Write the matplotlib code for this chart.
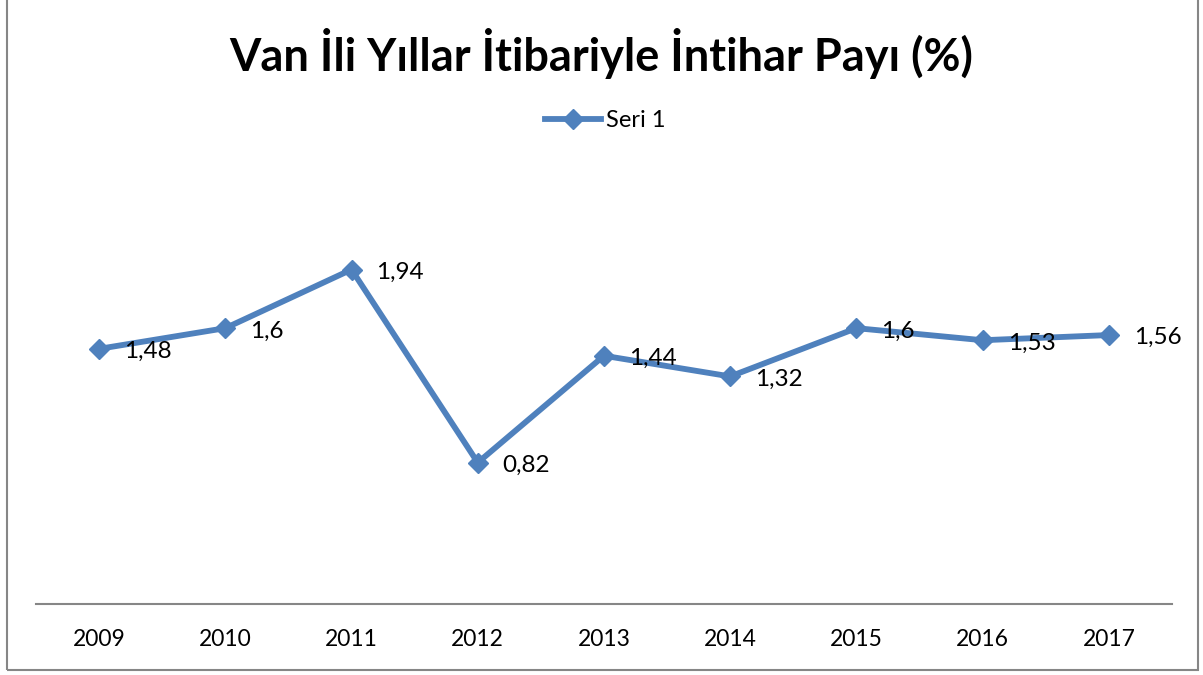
import matplotlib.pyplot as plt
from matplotlib.patches import Rectangle

years = ['2009', '2010', '2011', '2012', '2013', '2014', '2015', '2016', '2017']
values = [1.48, 1.6, 1.94, 0.82, 1.44, 1.32, 1.6, 1.53, 1.56]
value_labels = ['1,48', '1,6', '1,94', '0,82', '1,44', '1,32', '1,6', '1,53', '1,56']

plt.rcParams['font.family'] = ['Lato', 'DejaVu Sans']
blue = '#4F81BD'

fig = plt.figure(figsize=(12.03, 6.75), dpi=100)
ax = fig.add_axes([0.0299, 0.1052, 0.9443, 0.6385])

x = list(range(len(years)))
line, = ax.plot(x, values, color=blue, linewidth=4.2, marker='D',
                markersize=10, markeredgewidth=1, markeredgecolor=blue,
                label='Seri 1')

# data labels to the right of each point
for xi, v, lab in zip(x, values, value_labels):
    ax.annotate(lab, (xi, v), xytext=(18, -2), textcoords='offset points',
                ha='left', va='center', fontsize=17.5, color='black')

ax.set_xlim(-0.5, len(years) - 0.5)
ax.set_ylim(0, 2.5)
ax.set_xticks(x)
ax.set_xticklabels(years, fontsize=16.5)
ax.set_yticks([])
ax.tick_params(axis='x', length=0, pad=18)
for s in ['top', 'left', 'right']:
    ax.spines[s].set_visible(False)
ax.spines['bottom'].set_color('#868686')
ax.spines['bottom'].set_linewidth(1.5)

fig.text(0.5, 0.921, 'Van İli Yıllar İtibariyle İntihar Payı (%)',
         ha='center', va='center', fontsize=32.5, fontweight='bold')

fig.legend(handles=[line], loc='center', bbox_to_anchor=(0.503, 0.821),
           frameon=False, fontsize=17, handlelength=2.4, handletextpad=0.2)

# outer chart border
fig.add_artist(Rectangle((7 / 1203, 5 / 675), 1191 / 1203, 1.0,
                         transform=fig.transFigure, fill=False,
                         edgecolor='#868686', linewidth=1.5, clip_on=False))

fig.savefig('out.png', dpi=100)
